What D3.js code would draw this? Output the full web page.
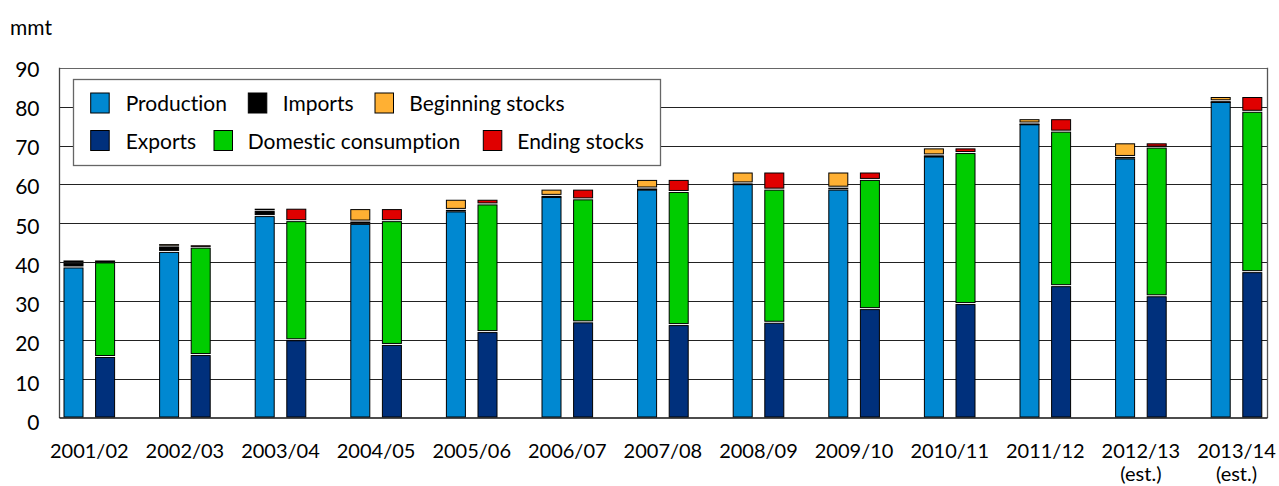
<!DOCTYPE html>
<html>
<head>
<meta charset="utf-8">
<script src="https://cdnjs.cloudflare.com/ajax/libs/d3/7.8.5/d3.min.js"></script>
<style>
  html, body { margin: 0; padding: 0; background: #fff; }
  svg { display: block; }
  text { font-family: Lato, "Open Sans", sans-serif; fill: #000; font-variant-ligatures: none; font-feature-settings: "liga" 0, "clig" 0; }
</style>
</head>
<body>
<svg id="chart" width="1279" height="486"></svg>
<script>
// ---- data (mmt) ----
const years = ["2001/02","2002/03","2003/04","2004/05","2005/06","2006/07","2007/08","2008/09","2009/10","2010/11","2011/12","2012/13","2013/14"];
const yearNotes = ["","","","","","","","","","","","(est.)","(est.)"];
const production        = [38.8, 42.8, 52.0, 50.0, 53.2, 56.9, 58.8, 60.2, 58.8, 67.3, 75.6, 66.8, 81.4];
const imports           = [1.2,  1.4,  1.3,  0.6,  0.4,  0.3,  0.3,  0.2,  0.5,  0.3,  0.2,  0.4,  0.1];
const beginningStocks   = [0.6,  0.6,  0.6,  3.2,  2.6,  1.6,  2.2,  2.8,  3.9,  1.8,  1.1,  3.5,  1.1];
const exportsV          = [15.8, 16.3, 20.1, 18.9, 22.2, 24.7, 24.0, 24.6, 28.1, 29.4, 34.0, 31.4, 37.6];
const domesticConsumption = [24.3, 27.6, 30.6, 31.8, 32.8, 31.6, 34.2, 34.2, 33.2, 38.8, 39.7, 38.2, 41.2];
const endingStocks      = [0.5,  0.6,  3.2,  3.1,  1.2,  2.5,  3.1,  4.4,  1.9,  1.2,  3.2,  1.1,  3.8];
const yTicks = [0,10,20,30,40,50,60,70,80,90];
const unitLabel = "mmt";

const supplySeries = [
  {name:"Production", values: production, color:"#0088D1"},
  {name:"Imports", values: imports, color:"#000000"},
  {name:"Beginning stocks", values: beginningStocks, color:"#FFB033"}
];
const useSeries = [
  {name:"Exports", values: exportsV, color:"#00307C"},
  {name:"Domestic consumption", values: domesticConsumption, color:"#00CC00"},
  {name:"Ending stocks", values: endingStocks, color:"#E00000"}
];

// ---- layout ----
const svg = d3.select("#chart");
const plot = {left: 59.5, right: 1267.5, top: 67.7, bottom: 418};
const y = d3.scaleLinear().domain([0, 90]).range([plot.bottom, plot.top]);
const yLab = d3.scaleLinear().domain([0, 90]).range([422.5, 69.5]);
const x = d3.scalePoint().domain(years).range([89.3, 1236.5]);
const barW = 19, barOff = 15.8;

// gridlines
svg.append("g").selectAll("line").data(yTicks.filter(d => d > 0)).join("line")
  .attr("x1", plot.left).attr("x2", plot.right)
  .attr("y1", d => Math.round(y(d)) + 0.5).attr("y2", d => Math.round(y(d)) + 0.5)
  .attr("stroke", d => d === 90 ? "#666" : "#222").attr("stroke-width", 1.2);

// plot frame (left, right)
svg.append("line").attr("x1", plot.left).attr("x2", plot.left).attr("y1", plot.top).attr("y2", plot.bottom)
  .attr("stroke", "#444").attr("stroke-width", 1.3);
svg.append("line").attr("x1", plot.right).attr("x2", plot.right).attr("y1", plot.top).attr("y2", plot.bottom)
  .attr("stroke", "#555").attr("stroke-width", 1.3);

// y axis labels
const yAxis = d3.axisLeft(yLab).tickValues(yTicks).tickSize(0).tickPadding(0).tickFormat(d3.format("d"));
const yg = svg.append("g").attr("transform", `translate(39.5,0)`).call(yAxis);
yg.select(".domain").remove();
yg.selectAll("text").attr("font-size", 21).attr("font-family", "Lato, sans-serif").attr("fill", "#000");

svg.append("text").attr("x", 10).attr("y", 35).attr("font-size", 21).text(unitLabel);

// stacked bars
function drawStack(seriesList, offset) {
  const stack = d3.stack().keys(d3.range(seriesList.length))
    .value((d, k) => seriesList[k].values[d]);
  const layers = stack(d3.range(years.length));
  layers.forEach((layer, k) => {
    svg.append("g").selectAll("rect").data(layer).join("rect")
      .attr("x", (d, i) => x(years[i]) + offset - barW / 2)
      .attr("width", barW)
      .attr("y", d => y(d[1]) + 1)
      .attr("height", d => Math.max(0.6, y(d[0]) - y(d[1]) - 2))
      .attr("fill", seriesList[k].color)
      .attr("stroke", "#000").attr("stroke-width", 1);
  });
}
drawStack(supplySeries, -barOff);
drawStack(useSeries, barOff);

// bottom axis line
svg.append("line").attr("x1", plot.left).attr("x2", plot.right).attr("y1", plot.bottom).attr("y2", plot.bottom)
  .attr("stroke", "#111").attr("stroke-width", 1.5);

// x labels
const xg = svg.append("g");
xg.selectAll("text.yr").data(years).join("text").attr("class", "yr")
  .attr("x", d => x(d)).attr("y", 458).attr("text-anchor", "middle").attr("font-size", 20).text(d => d);
xg.selectAll("text.note").data(years).join("text").attr("class", "note")
  .attr("x", d => x(d)).attr("y", 481).attr("text-anchor", "middle").attr("font-size", 20)
  .text((d, i) => yearNotes[i]);

// legend
const lg = svg.append("g");
lg.append("rect").attr("x", 73.5).attr("y", 79.5).attr("width", 587).attr("height", 86)
  .attr("fill", "#fff").attr("stroke", "#666").attr("stroke-width", 1.3);
const legendItems = [
  {s: supplySeries[0], sx: 90.7, tx: 125.7, row: 0},
  {s: supplySeries[1], sx: 248.3, tx: 282.7, row: 0},
  {s: supplySeries[2], sx: 375, tx: 409.3, row: 0},
  {s: useSeries[0], sx: 90.7, tx: 125.7, row: 1},
  {s: useSeries[1], sx: 214, tx: 247.7, row: 1},
  {s: useSeries[2], sx: 483.3, tx: 517.3, row: 1}
];
const rowY = [93, 130.5];
legendItems.forEach(it => {
  lg.append("rect").attr("x", it.sx).attr("y", rowY[it.row]).attr("width", 18.5).attr("height", 20)
    .attr("fill", it.s.color).attr("stroke", "#000").attr("stroke-width", 1);
  lg.append("text").attr("x", it.tx).attr("y", rowY[it.row] + 18).attr("font-size", 21).text(it.s.name);
});
</script>
</body>
</html>
